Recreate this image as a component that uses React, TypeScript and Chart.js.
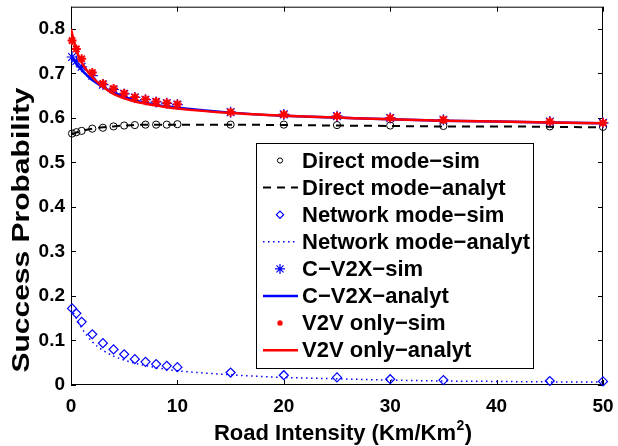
import React, { useEffect, useRef } from 'react';
import { Chart, registerables } from 'chart.js';
import { drawPoint } from 'chart.js/helpers';

Chart.register(...registerables);

// ---------- data ----------
const simX = [0.1, 0.5, 1, 2, 3, 4, 5, 6, 7, 8, 9, 10, 15, 20, 25, 30, 35, 45, 50];
const analytX = [0, 0.5, 1, 2, 3, 4, 5, 6, 7, 8, 9, 10, 15, 20, 25, 30, 35, 40, 45, 50];

const directSim = [0.565, 0.568, 0.571, 0.576, 0.578, 0.581, 0.583, 0.584, 0.585, 0.585, 0.585, 0.586, 0.585, 0.585, 0.584, 0.583, 0.582, 0.581, 0.58];
const directAnalyt = [0.563, 0.567, 0.571, 0.576, 0.579, 0.581, 0.583, 0.584, 0.585, 0.585, 0.585, 0.585, 0.585, 0.584, 0.583, 0.582, 0.581, 0.581, 0.58, 0.579];
const networkSim = [0.172, 0.161, 0.142, 0.114, 0.094, 0.08, 0.069, 0.058, 0.052, 0.047, 0.043, 0.04, 0.028, 0.022, 0.017, 0.013, 0.011, 0.009, 0.008];
const networkAnalyt = [0.172, 0.15, 0.128, 0.097, 0.078, 0.065, 0.056, 0.049, 0.044, 0.039, 0.035, 0.032, 0.023, 0.017, 0.014, 0.011, 0.009, 0.008, 0.007, 0.007];
const cv2xSim = [0.737, 0.728, 0.715, 0.695, 0.675, 0.664, 0.654, 0.646, 0.641, 0.636, 0.633, 0.63, 0.613, 0.608, 0.604, 0.6, 0.596, 0.592, 0.589];
const cv2xAnalyt = [0.74, 0.722, 0.708, 0.685, 0.67, 0.657, 0.648, 0.64, 0.634, 0.629, 0.626, 0.623, 0.612, 0.605, 0.601, 0.597, 0.594, 0.592, 0.59, 0.588];
const v2vSim = [0.774, 0.755, 0.733, 0.702, 0.677, 0.666, 0.655, 0.647, 0.642, 0.637, 0.634, 0.631, 0.613, 0.608, 0.604, 0.6, 0.596, 0.592, 0.589];
const v2vAnalyt = [0.8, 0.752, 0.725, 0.692, 0.67, 0.654, 0.644, 0.637, 0.632, 0.628, 0.624, 0.621, 0.611, 0.605, 0.601, 0.597, 0.594, 0.592, 0.59, 0.588];

const xTicks = [0, 10, 20, 30, 40, 50];
const yTicks = [0, 0.1, 0.2, 0.3, 0.4, 0.5, 0.6, 0.7, 0.8];
const xTitleMain = 'Road Intensity (Km/Km';
const xTitleSup = '2';
const xTitleEnd = ')';
const yTitle = 'Success Probability';
const seriesNames = [
  'Direct mode−sim',
  'Direct mode−analyt',
  'Network mode−sim',
  'Network mode−analyt',
  'C−V2X−sim',
  'C−V2X−analyt',
  'V2V only−sim',
  'V2V only−analyt',
];

const FONT = '"Liberation Sans", Arial, Helvetica, sans-serif';
const BLUE = '#0000ff';
const RED = '#ff0000';

const pts = (xs: number[], ys: number[]) => xs.map((x, i) => ({ x, y: ys[i] }));

const framePlugin = {
  id: 'frame',
  beforeDatasetsDraw(chart: any) {
    const { ctx, chartArea: a, scales } = chart;
    ctx.save();
    ctx.strokeStyle = '#000';
    ctx.lineWidth = 1;
    ctx.strokeRect(a.left + 0.5, a.top + 0.5, a.right - a.left - 1, a.bottom - a.top - 1);
    const L = 5;
    ctx.beginPath();
    for (const t of scales.x.ticks) {
      const p = Math.round(scales.x.getPixelForValue(t.value)) + 0.5;
      ctx.moveTo(p, a.bottom); ctx.lineTo(p, a.bottom - L);
      ctx.moveTo(p, a.top); ctx.lineTo(p, a.top + L);
    }
    for (const t of scales.y.ticks) {
      const p = Math.round(scales.y.getPixelForValue(t.value)) + 0.5;
      ctx.moveTo(a.left, p); ctx.lineTo(a.left + L, p);
      ctx.moveTo(a.right, p); ctx.lineTo(a.right - L, p);
    }
    ctx.stroke();
    ctx.restore();
  },
};

const legendTitlePlugin = {
  id: 'legendTitles',
  afterDraw(chart: any) {
    const { ctx, chartArea: a } = chart;
    ctx.save();
    // x title with superscript
    ctx.fillStyle = '#000';
    ctx.textBaseline = 'alphabetic';
    ctx.textAlign = 'left';
    const mainFont = `bold 22px ${FONT}`;
    const supFont = `bold 14px ${FONT}`;
    ctx.font = mainFont;
    const w1 = ctx.measureText(xTitleMain).width;
    const w3 = ctx.measureText(xTitleEnd).width;
    ctx.font = supFont;
    const w2 = ctx.measureText(xTitleSup).width;
    const total = w1 + w2 + w3 + 1;
    let tx = (a.left + a.right) / 2 + 6 - total / 2;
    const base = 440;
    ctx.font = mainFont;
    ctx.fillText(xTitleMain, tx, base);
    tx += w1 + 0.5;
    ctx.font = supFont;
    ctx.fillText(xTitleSup, tx, base - 10);
    tx += w2 + 0.5;
    ctx.font = mainFont;
    ctx.fillText(xTitleEnd, tx, base);

    // y title
    ctx.save();
    ctx.textAlign = 'center';
    ctx.textBaseline = 'middle';
    ctx.translate(22, 230);
    ctx.rotate(-Math.PI / 2);
    ctx.scale(1.25, 1);
    ctx.font = `bold 24px ${FONT}`;
    ctx.fillText(yTitle, 0, 0);
    ctx.restore();

    // legend
    const bx = 256, by = 143, bw = 277, bh = 225;
    ctx.fillStyle = '#fff';
    ctx.fillRect(bx, by, bw, bh);
    ctx.strokeStyle = '#000';
    ctx.lineWidth = 1;
    ctx.strokeRect(bx + 0.5, by + 0.5, bw, bh);
    const rowH = 27.1;
    const y0 = by + 17.5;
    chart.data.datasets.forEach((ds: any, i: number) => {
      const cy = y0 + i * rowH;
      if (ds.showLine) {
        ctx.save();
        ctx.strokeStyle = ds.borderColor;
        ctx.lineWidth = ds.borderWidth;
        ctx.setLineDash(ds.borderDash || []);
        ctx.beginPath();
        ctx.moveTo(bx + 7, cy);
        ctx.lineTo(bx + 42, cy);
        ctx.stroke();
        ctx.restore();
      } else {
        ctx.save();
        ctx.strokeStyle = ds.borderColor;
        ctx.fillStyle = ds.backgroundColor;
        ctx.lineWidth = ds.legendBorder;
        drawPoint(ctx, { pointStyle: ds.pointStyle, radius: ds.legendRadius, rotation: 0, borderWidth: ds.legendBorder }, bx + 24, cy);
        ctx.restore();
      }
      ctx.fillStyle = '#000';
      ctx.font = `bold 22px ${FONT}`;
      ctx.textAlign = 'left';
      ctx.textBaseline = 'middle';
      ctx.fillText(ds.label, bx + 46, cy + 1);
    });
    ctx.restore();
  },
};

export default function App() {
  const ref = useRef<HTMLCanvasElement>(null);
  useEffect(() => {
    const simStyle = (pointStyle: string, color: string, radius: number, bw: number, lr: number, lb: number) => ({
      showLine: false,
      pointStyle,
      pointRadius: radius,
      borderColor: color,
      backgroundColor: 'rgba(0,0,0,0)',
      pointBorderColor: color,
      pointBackgroundColor: 'rgba(0,0,0,0)',
      borderWidth: bw,
      pointBorderWidth: bw,
      legendRadius: lr,
      legendBorder: lb,
      clip: false,
    });
    const lineStyle = (color: string, width: number, dash: number[]) => ({
      showLine: true,
      pointRadius: 0,
      borderColor: color,
      backgroundColor: color,
      borderWidth: width,
      borderDash: dash,
      cubicInterpolationMode: 'monotone',
    });
    const datasets: any[] = [
      { label: seriesNames[0], data: pts(simX, directSim), ...simStyle('circle', '#000', 3.6, 1, 2.6, 1) },
      { label: seriesNames[1], data: pts(analytX, directAnalyt), ...lineStyle('#000', 2, [8, 6]) },
      { label: seriesNames[2], data: pts(simX, networkSim), ...simStyle('rectRot', BLUE, 4.5, 1.2, 3.6, 1.2) },
      { label: seriesNames[3], data: pts(analytX, networkAnalyt), ...lineStyle(BLUE, 1.5, [1.5, 3.5]) },
      { label: seriesNames[4], data: pts(simX, cv2xSim), ...simStyle('star', BLUE, 5.5, 1.2, 5, 1.2) },
      { label: seriesNames[5], data: pts(analytX, cv2xAnalyt), ...lineStyle(BLUE, 2.5, []) },
      { label: seriesNames[6], data: pts(simX, v2vSim), ...simStyle('star', RED, 4.5, 2, 3, 1.3) },
      { label: seriesNames[7], data: pts(analytX, v2vAnalyt), ...lineStyle(RED, 2.5, []) },
    ];
    datasets.forEach((d, i) => (d.order = datasets.length - i));

    const chart = new Chart(ref.current!, {
      type: 'scatter',
      data: { datasets },
      plugins: [framePlugin, legendTitlePlugin],
      options: {
        animation: false,
        responsive: false,
        layout: { padding: { top: 6, right: 15, left: 0, bottom: 0 } },
        plugins: { legend: { display: false }, tooltip: { enabled: false } },
        scales: {
          x: {
            type: 'linear',
            min: 0,
            max: 50,
            grid: { display: false, drawTicks: false },
            border: { display: false },
            afterBuildTicks: (s: any) => { s.ticks = xTicks.map((v) => ({ value: v })); },
            afterFit: (s: any) => { s.height = 61; s.paddingLeft = 0; s.paddingRight = 0; },
            ticks: {
              padding: 10,
              color: '#000',
              font: { family: FONT, weight: 'bold', size: 19 },
              maxRotation: 0,
              callback: (v: any) => String(v),
            },
          },
          y: {
            type: 'linear',
            min: 0,
            max: 0.85,
            grid: { display: false, drawTicks: false },
            border: { display: false },
            afterBuildTicks: (s: any) => { s.ticks = yTicks.map((v) => ({ value: v })); },
            afterFit: (s: any) => { s.width = 71; s.paddingTop = 0; s.paddingBottom = 0; },
            ticks: {
              padding: 6,
              color: '#000',
              font: { family: FONT, weight: 'bold', size: 19 },
              callback: (v: any) => String(v),
            },
          },
        },
      } as any,
    });
    return () => chart.destroy();
  }, []);
  return (
    <div style={{ position: 'absolute', left: 0, top: 0, width: 618, height: 446, background: '#fff' }}>
      <canvas ref={ref} width={618} height={446} style={{ display: 'block', width: 618, height: 446 }} />
    </div>
  );
}
